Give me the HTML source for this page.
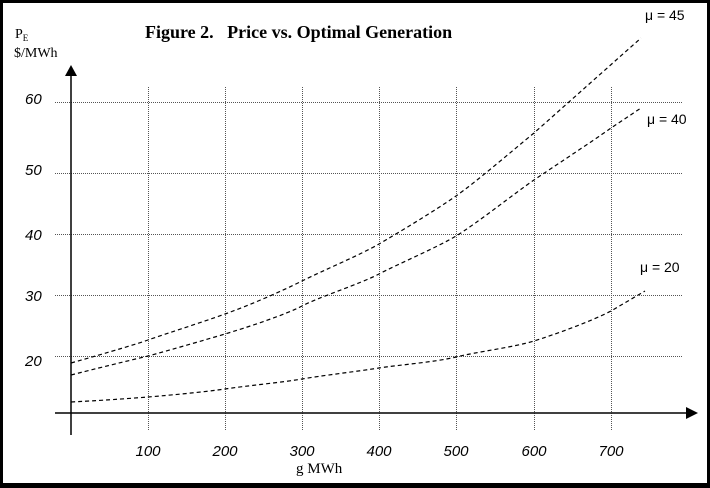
<!DOCTYPE html>
<html><head><meta charset="utf-8"><style>
html,body{margin:0;padding:0;background:#000;}
svg{display:block;}
</style></head><body>
<svg width="710" height="488" viewBox="0 0 710 488" xmlns="http://www.w3.org/2000/svg">
<rect x="0" y="0" width="710" height="488" fill="#000"/>
<rect x="3" y="3" width="704" height="480" fill="#fff"/>
<g stroke="#555" stroke-width="1" stroke-dasharray="1,1">
<line x1="55" y1="102.5" x2="683" y2="102.5"/>
<line x1="55" y1="173.5" x2="683" y2="173.5"/>
<line x1="55" y1="234.5" x2="683" y2="234.5"/>
<line x1="55" y1="295.5" x2="683" y2="295.5"/>
<line x1="55" y1="356.5" x2="683" y2="356.5"/>
<line x1="148.5" y1="87" x2="148.5" y2="430"/>
<line x1="225.5" y1="87" x2="225.5" y2="430"/>
<line x1="302.5" y1="87" x2="302.5" y2="430"/>
<line x1="379.5" y1="87" x2="379.5" y2="430"/>
<line x1="456.5" y1="87" x2="456.5" y2="430"/>
<line x1="534.5" y1="87" x2="534.5" y2="430"/>
<line x1="611.5" y1="87" x2="611.5" y2="430"/>
</g>
<g stroke="#000" stroke-width="1.5">
<line x1="71" y1="76" x2="71" y2="435"/>
<line x1="55" y1="413" x2="688" y2="413"/>
</g>
<polygon points="71,65 65,76 77,76" fill="#000"/>
<polygon points="698,413 686,407 686,419" fill="#000"/>
<g fill="none" stroke="#000" stroke-width="1.2" stroke-dasharray="4,3">
<path d="M71,363 C110,352 140,343 148,340 S200,323 225,314 S280,292 302,281 S360,255 379,244 S436,210 456,196 S512,151 534,133 L641,38"/>
<path d="M71,375 C110,365 140,358 148,356 S205,340 225,334 S285,315 302,306 S360,284 379,274 S436,248 456,236 S515,193 534,180 S590,143 611,128 L641,108"/>
<path d="M71,402 C110,400 135,398 148,397 S205,392 225,389 S285,382 302,379 S360,371 379,368 S436,362 456,357 S515,347 534,341 S590,322 611,311 L645,291"/>
</g>
<g font-family="Liberation Serif, serif" fill="#000">
<text x="145" y="38" font-size="18" font-weight="bold" xml:space="preserve">Figure 2.   Price vs. Optimal Generation</text>
<text x="15" y="38" font-size="14">P<tspan font-size="9" dy="3">E</tspan></text>
<text x="14" y="57" font-size="14">$/MWh</text>
<text x="296" y="473" font-size="15">g  MWh</text>
</g>
<g font-family="Liberation Sans, sans-serif" font-size="14" fill="#000">
<text x="645" y="20">μ = 45</text>
<text x="647" y="124">μ = 40</text>
<text x="640" y="272">μ = 20</text>
</g>
<g font-family="Liberation Sans, sans-serif" font-style="italic" font-size="15" fill="#000">
<text x="25" y="104">60</text>
<text x="25" y="175">50</text>
<text x="25" y="240">40</text>
<text x="25" y="301">30</text>
<text x="25" y="366">20</text>
<g text-anchor="middle">
<text x="148" y="456">100</text>
<text x="225" y="456">200</text>
<text x="302" y="456">300</text>
<text x="379" y="456">400</text>
<text x="456" y="456">500</text>
<text x="534" y="456">600</text>
<text x="611" y="456">700</text>
</g>
</g>
</svg>
</body></html>
